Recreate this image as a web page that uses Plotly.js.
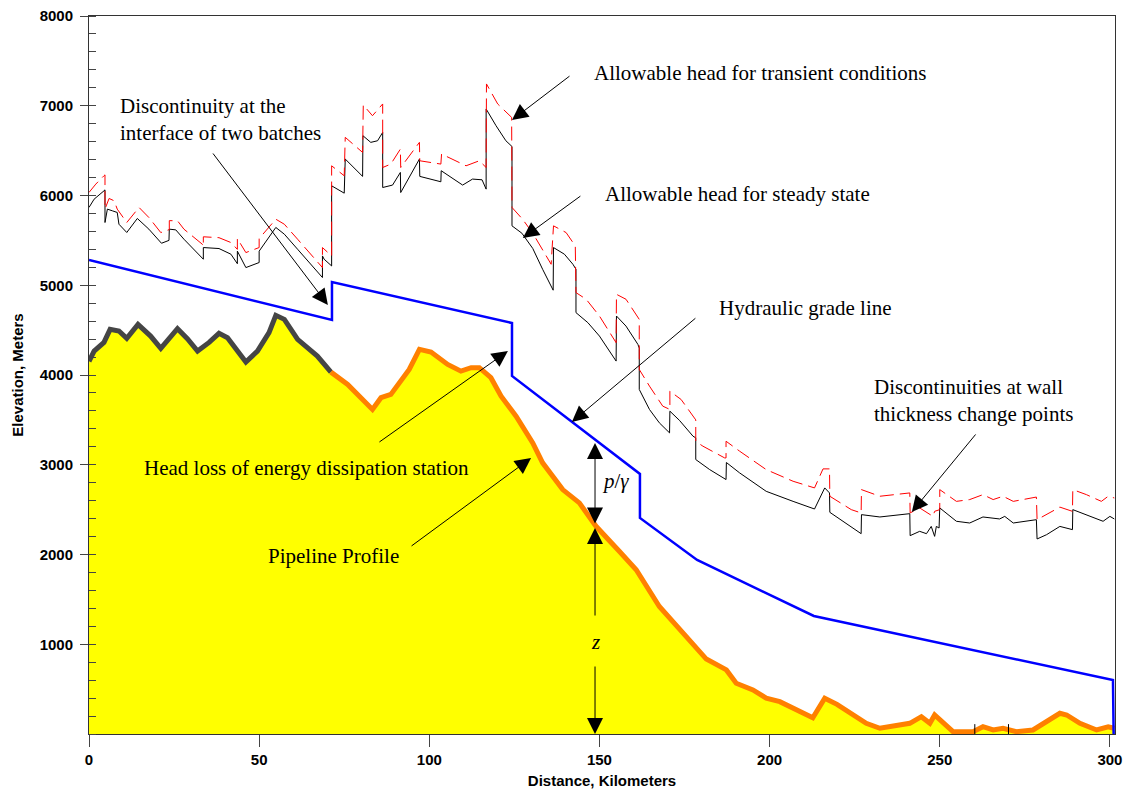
<!DOCTYPE html>
<html>
<head>
<meta charset="utf-8">
<script src="https://cdn.plot.ly/plotly-3.0.1.min.js"></script>
<style>html,body{margin:0;padding:0;background:#fff;}#chart{width:1126px;height:791px;}</style>
</head>
<body>
<div id="chart"></div>
<script>
// Pipeline ground profile (km, m)
var profileX = [0,1.5,4.4,6.2,8.8,11.1,14.4,18.1,21.1,26.0,28.9,31.9,35.3,38.2,40.7,46.1,49.5,52.9,54.9,57.4,61.3,67.1,71.1,
  76.0,83.3,85.8,88.7,94.1,97.1,100.5,105.4,109.3,112.3,114.7,118.1,121.1,125.5,130.4,133.3,139.2,144.1,149.0,155.9,160.8,167.6,175.5,181.4,187.3,190.2,195.1,199.0,203.0,212.7,216.2,219.8,228.4,232.4,241.2,244.6,247.1,248.5,253.9,259.8,262.7,265.7,268.6,272.5,277.4,281.4,285.3,287.3,291.2,296.1,299.5,301.3];
var profileY = [4152,4267,4363,4509,4490,4408,4564,4434,4297,4516,4405,4267,4363,4464,4416,4144,4267,4472,4665,4620,4397,4211,4032,
  3895,3616,3747,3783,4062,4285,4255,4118,4043,4081,4081,3970,3764,3541,3244,3021,2723,2575,2314,2034,1830,1421,1086,835,714,566,491,400,360,180,398,330,119,64,119,193,119,212,26,26,81,45,64,26,45,137,231,212,119,45,81,64];
var profileSplitKm = 71.1;

// Hydraulic grade line (km, m)
var hglX = [0,71.4,71.4,124.3,124.3,161.9,161.9,178.7,213.0,300.9,301.1];
var hglY = [5281,4613,5036,4579,3989,2897,2407,1939,1315,602,0];

// Allowable head for steady state (km, m)
var steadyX = [0,1.5,4.4,4.7,4.7,5.4,6.9,8.3,8.8,11.1,14.2,17.6,21.3,23.5,23.6,25.5,27.9,31.9,33.6,33.6,38.2,41.7,43.6,43.6,46.1,50.0,50.0,54.9,57.4,61.3,68.6,68.6,69.1,71.3,71.3,75.0,75.3,80.4,80.5,82.8,84.8,86.3,86.3,89.2,91.5,91.6,97.1,97.2,103.4,103.5,109.8,112.7,115.5,116.7,116.7,119.6,122.5,124.3,124.3,127.2,130.4,133.3,136.4,136.5,139.7,142.2,143.1,143.1,146.6,150.0,154.9,155.0,157.8,161.3,161.7,161.7,164.7,167.6,170.6,170.7,173.5,177.5,178.3,178.3,182.4,187.2,187.3,191.2,199.0,206.9,213.2,216.2,217.6,217.7,222.5,226.9,227.0,232.4,241.2,241.3,244.1,246.1,247.5,248.5,249.0,249.8,250.0,254.9,258.8,262.7,267.6,269.1,271.6,278.4,278.6,281.4,285.3,289.0,289.1,293.1,298.0,300.0,301.3];
var steadyY = [5867,5959,6052,6063,5699,5848,5829,5811,5680,5588,5744,5625,5468,5500,5625,5617,5513,5357,5290,5420,5409,5346,5240,5380,5197,5253,5380,5644,5569,5401,5086,5327,5290,5215,6108,6026,6406,6213,6666,6592,6610,6703,6089,6116,6257,6033,6406,6213,6153,6276,6116,6183,6175,6071,6964,6778,6610,6546,5662,5580,5410,5178,4945,5420,5346,5234,5178,4695,4583,4434,4155,4657,4545,4341,4300,3839,3616,3467,3355,3597,3495,3318,3300,3058,2946,2835,3025,2909,2704,2592,2507,2742,2686,2470,2351,2232,2444,2418,2455,2210,2258,2232,2313,2202,2313,2295,2519,2370,2351,2418,2396,2425,2351,2388,2173,2221,2313,2277,2500,2444,2370,2425,2396];

// Allowable head for transient conditions (km, m)
var transientX = [0,2.0,4.4,4.7,4.7,5.9,7.4,8.3,11.1,14.7,17.6,21.1,23.6,23.6,26.0,27.9,33.3,33.6,33.6,38.2,41.7,43.6,43.6,46.1,50.0,50.0,54.9,57.4,61.3,68.6,68.6,71.3,71.3,75.0,75.3,80.4,80.6,83.3,86.3,86.3,88.7,91.5,91.6,97.1,97.2,103.4,103.6,110.8,114.7,116.7,116.8,120.1,124.2,124.3,127.4,130.4,135.8,136.5,140.2,142.9,143.1,146.1,150.0,154.9,155.0,157.8,161.7,161.7,164.7,168.6,170.7,170.7,174.0,177.9,178.3,178.3,180.4,186.8,187.2,187.2,191.2,199.0,206.9,213.2,215.7,217.6,217.7,224.0,226.9,227.0,232.4,241.2,241.3,244.1,248.0,248.5,250.0,250.0,254.9,258.8,262.7,265.7,268.6,271.6,278.4,278.6,281.4,285.3,289.0,289.1,293.1,297.5,299.5,301.3];
var transientY = [6034,6127,6220,6230,5850,5967,5941,5848,5699,5867,5755,5587,5620,5720,5718,5625,5457,5430,5540,5530,5476,5400,5520,5364,5420,5520,5736,5680,5513,5197,5420,5327,6331,6220,6648,6480,7008,6889,7020,6312,6350,6517,6312,6592,6387,6350,6462,6331,6387,6312,7243,7020,6870,5867,5736,5580,5234,5662,5587,5438,4918,4844,4657,4360,4899,4844,4620,4062,3876,3653,3616,3820,3727,3520,3500,3260,3207,3076,3076,3262,3151,2946,2816,2742,2954,2954,2649,2500,2463,2723,2649,2686,2463,2519,2425,2481,2500,2723,2592,2612,2667,2612,2649,2592,2640,2388,2444,2528,2481,2723,2667,2592,2649,2630];

// Small marks near the bottom (km, m)
var marksX = [260.3,260.3,null,270.2,270.2];
var marksY = [0,110,null,0,110];

// Axis ticks
var yTicks = [1000,2000,3000,4000,5000,6000,7000,8000];
var xTicks = [0,50,100,150,200,250,300];

var grayX=[],grayY=[],orangeX=[],orangeY=[];
for (var i=0;i<profileX.length;i++){
  if (profileX[i] <= profileSplitKm){grayX.push(profileX[i]);grayY.push(profileY[i]);}
  if (profileX[i] >= profileSplitKm){orangeX.push(profileX[i]);orangeY.push(profileY[i]);}
}

var traces = [
  {x:profileX,y:profileY,mode:'lines',fill:'tozeroy',fillcolor:'#FFFF00',line:{width:0,color:'#FFFF00'},hoverinfo:'skip'},
  {x:grayX,y:grayY,mode:'lines',line:{color:'#454545',width:5}},
  {x:orangeX,y:orangeY,mode:'lines',line:{color:'#FF8000',width:5}},
  {x:marksX,y:marksY,mode:'lines',line:{color:'#000',width:1}},
  {x:hglX,y:hglY,mode:'lines',line:{color:'#0000FF',width:2.5}},
  {x:steadyX,y:steadyY,mode:'lines',line:{color:'#000000',width:1}},
  {x:transientX,y:transientY,mode:'lines',line:{color:'#FF0000',width:1,dash:'14px,6px'}}
];

var tf = {family:'"Liberation Serif", "Times New Roman", serif',size:21,color:'#000'};
function txt(x,y,t,anchor){return {x:x,y:y,xref:'x',yref:'y',text:t,showarrow:false,xanchor:anchor||'left',yanchor:'middle',align:'left',font:tf};}
function arr(x,y,ax,ay,side){return {x:x,y:y,xref:'x',yref:'y',ax:ax,ay:ay,text:'',showarrow:true,arrowhead:2,arrowsize:3.2,arrowwidth:1,arrowcolor:'#000',standoff:0,startstandoff:0,arrowside:side||'end',startarrowhead:2,startarrowsize:3.2};}

var annotations = [
  txt(8.5,6852,'Discontinuity at the<br>interface of two batches'),
  txt(147.8,7365,'Allowable head for transient conditions'),
  txt(151.0,6017,'Allowable head for steady state'),
  txt(184.5,4747,'Hydraulic grade line'),
  txt(230.1,3721,'Discontinuities at wall<br>thickness change points'),
  txt(15.6,2964,'Head loss of energy dissipation station'),
  txt(52.0,1983,'Pipeline Profile'),
  txt(150.2,2819,'<i>p</i>/<i>γ</i>'),
  txt(148.7,1025,'<i>z</i>','center'),
  arr(70.2,4780,-116,-153),
  arr(124.3,6841,59,-45),
  arr(127.5,5526,59,-43),
  arr(141.9,3476,125,-105),
  arr(241.8,2474,65,-79),
  arr(123.1,4267,-130,92),
  arr(129.9,3075,-121,89),
  arr(148.7,3242,0,82,'end+start'),
  arr(148.7,2295,0,89),
  arr(148.7,0,0,-69)
];

var axFont = {family:'"Liberation Sans", Arial, sans-serif',size:15,color:'#000',weight:'bold'};
var layout = {
  width:1126,height:791,
  margin:{l:89,r:11,t:16,b:57},
  paper_bgcolor:'#fff',plot_bgcolor:'#fff',
  showlegend:false,
  xaxis:{range:[0,301.5],tickvals:xTicks,ticks:'outside',ticklen:12,tickcolor:'#444',tickwidth:1,
    showline:true,linecolor:'#333',linewidth:1,mirror:true,showgrid:false,zeroline:false,
    tickfont:axFont,
    title:{text:'<b>Distance, Kilometers</b>',font:axFont,standoff:8}},
  yaxis:{range:[0,8000],tickvals:yTicks,ticks:'outside',ticklen:8,tickcolor:'#444',tickwidth:1,
    ticklabelstandoff:4,
    minor:{dtick:200,ticks:'inside',ticklen:7,tickcolor:'#444'},
    showline:true,linecolor:'#333',linewidth:1,mirror:true,showgrid:false,zeroline:false,
    tickfont:axFont,
    title:{text:'<b>Elevation, Meters</b>',font:axFont,standoff:12}},
  annotations:annotations
};
Plotly.newPlot('chart',traces,layout,{displayModeBar:false,staticPlot:true});
</script>
</body>
</html>
